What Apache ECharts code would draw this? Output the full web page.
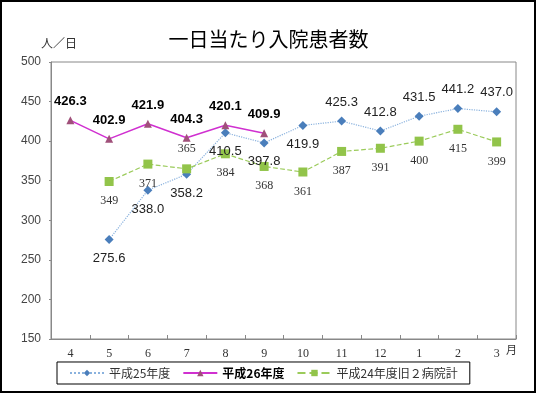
<!DOCTYPE html>
<html><head><meta charset="utf-8">
<script src="https://cdn.jsdelivr.net/npm/echarts@6/dist/echarts.min.js"></script>
<style>html,body{margin:0;padding:0;background:#fff}#c{width:537px;height:394px}</style>
</head><body><div id="c"></div>
<script>
var months = ['4','5','6','7','8','9','10','11','12','1','2','3'];
var h25 = [null, 275.6, 338.0, 358.2, 410.5, 397.8, 419.9, 425.3, 412.8, 431.5, 441.2, 437.0];
var h26 = [426.3, 402.9, 421.9, 404.3, 420.1, 409.9, null, null, null, null, null, null];
var h24 = [null, 349, 371, 365, 384, 368, 361, 387, 391, 400, 415, 399];
var h25Pos = ['bottom','bottom','bottom','bottom','bottom','bottom','bottom','top','top','top','top','top'];
var h24Pos = ['bottom','bottom','bottom','top','bottom','bottom','bottom','bottom','bottom','bottom','bottom','bottom'];
var yTicks = {min:150, max:500, interval:50};

function withPos(vals, pos){
  return vals.map(function(v,i){ return {value:v, label:{position:pos[i]}}; });
}
var chart = echarts.init(document.getElementById('c'));
chart.setOption({
  animation:false,
  backgroundColor:'#fff',
  title:{text:'一日当たり入院患者数', left:'center', top:24, textStyle:{fontFamily:'Noto Sans CJK JP', fontSize:20, fontWeight:'normal', color:'#000'}},
  graphic:[
    {type:'rect', shape:{x:1,y:1,width:534,height:391}, style:{fill:'none', stroke:'#000', lineWidth:2}, silent:true},
    {type:'text', left:41, top:37, style:{text:'人／日', font:'12px "Noto Sans CJK JP"', fill:'#333'}},
    {type:'text', left:506, top:344, style:{text:'月', font:'11px "Noto Sans CJK JP"', fill:'#333'}}
  ],
  grid:{left:51, right:21, top:62, bottom:55, show:true, borderColor:'#888', borderWidth:1},
  legend:{
    bottom:10, left:57, itemWidth:34, itemHeight:8, itemGap:12,
    padding:[5,12], borderColor:'#000', borderWidth:1,
    textStyle:{fontFamily:'Noto Sans CJK JP', fontSize:12, color:'#333'},
    data:[{name:'平成25年度'},{name:'平成26年度', textStyle:{fontWeight:'bold', color:'#000'}},{name:'平成24年度旧２病院計'}]
  },
  xAxis:{type:'category', data:months, boundaryGap:true,
    axisLine:{lineStyle:{color:'#888'}},
    axisTick:{show:true, inside:true, length:4, lineStyle:{color:'#888'}},
    axisLabel:{fontFamily:'Liberation Serif', fontSize:12, color:'#333', margin:9}
  },
  yAxis:{type:'value', min:yTicks.min, max:yTicks.max, interval:yTicks.interval,
    axisLine:{show:true, lineStyle:{color:'#888'}},
    axisTick:{show:true, length:2, lineStyle:{color:'#888'}},
    splitLine:{show:false},
    axisLabel:{fontFamily:'Liberation Sans', fontSize:12, color:'#444', margin:10}
  },
  series:[
    {name:'平成25年度', type:'line', data:withPos(h25,h25Pos), connectNulls:false,
      symbol:'diamond', symbolSize:9,
      itemStyle:{color:'#4A7EBB'},
      lineStyle:{color:'#8AB2DE', width:1.2, type:'dotted'},
      label:{show:true, distance:8, fontFamily:'Liberation Sans', fontSize:13, color:'#222', formatter:function(p){return p.value==null?'':p.value.toFixed(1);}}
    },
    {name:'平成26年度', type:'line', data:h26,
      symbol:'triangle', symbolSize:8,
      itemStyle:{color:'#A0507A'},
      lineStyle:{color:'#D030D0', width:1.5, type:'solid'},
      label:{show:true, position:'top', distance:8, fontFamily:'Liberation Sans', fontSize:13, fontWeight:'bold', color:'#000', formatter:function(p){return p.value==null?'':p.value.toFixed(1);}}
    },
    {name:'平成24年度旧２病院計', type:'line', data:withPos(h24,h24Pos),
      symbol:'rect', symbolSize:9,
      itemStyle:{color:'#92C44A'},
      lineStyle:{color:'#9BCB5A', width:1.2, type:'dashed'},
      label:{show:true, distance:9, fontFamily:'Liberation Serif', fontSize:12, color:'#333'}
    }
  ]
});
</script></body></html>
